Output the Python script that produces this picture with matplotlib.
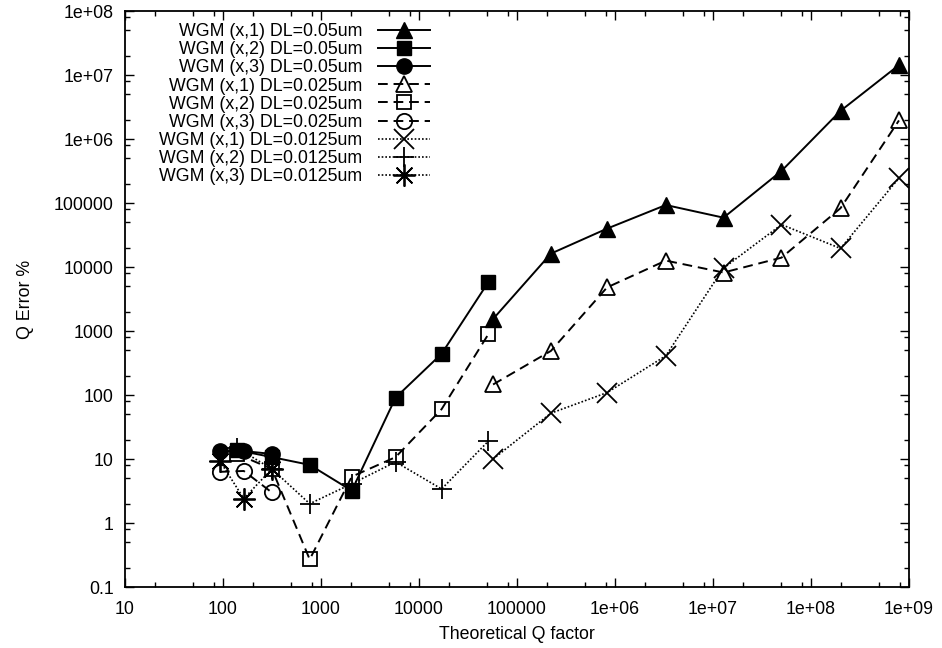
import matplotlib.pyplot as plt
from matplotlib.ticker import LogLocator, NullFormatter, FixedLocator

plt.rcParams['font.family'] = ['Liberation Sans', 'DejaVu Sans']

# theoretical Q factor for each mode family
q_mode1 = [57000, 222000, 830000, 3.3e6, 1.28e7, 5.0e7, 2.0e8, 7.9e8]
q_mode2 = [138, 315, 767, 2060, 5770, 17000, 51000]
q_mode3 = [93, 163, 315]

# Q error % for each mesh size
err1_050 = [1540, 16200, 39800, 93000, 59000, 317000, 2.75e6, 1.43e7]
err2_050 = [13.8, 10.7, 8.1, 3.2, 91, 440, 5800]
err3_050 = [13.3, 13.3, 12.0]
err1_025 = [146, 489, 4800, 12600, 8200, 14000, 83000, 1.95e6]
err2_025 = [12, 7, 0.27, 5.3, 10.7, 60, 890]
err3_025 = [6.3, 6.5, 3.0]
err1_0125 = [10, 52, 109, 410, 9600, 46000, 19500, 245000]
err2_0125 = [15, 7, 2.0, 4.1, 9, 3.4, 19]
err3_0125 = [9.3, 2.4, 7]

labels = [
    "WGM (x,1) DL=0.05um", "WGM (x,2) DL=0.05um", "WGM (x,3) DL=0.05um",
    "WGM (x,1) DL=0.025um", "WGM (x,2) DL=0.025um", "WGM (x,3) DL=0.025um",
    "WGM (x,1) DL=0.0125um", "WGM (x,2) DL=0.0125um", "WGM (x,3) DL=0.0125um",
]

fs = 12.8

fig = plt.figure(figsize=(9.42, 6.48), dpi=100)
ax = fig.add_axes([125 / 942, 1 - 587 / 648, 784 / 942, 576 / 648])

solid = dict(color="black", lw=1.4, ls="-")
dashed = dict(color="black", lw=1.4, ls=(0, (5, 3)))
dotted = dict(color="black", lw=1.2, ls=(0, (1, 1.2)))

ax.plot(q_mode1, err1_050, marker="^", ms=11, label=labels[0], **solid)
ax.plot(q_mode2, err2_050, marker="s", ms=9.5, label=labels[1], **solid)
ax.plot(q_mode3, err3_050, marker="o", ms=11, label=labels[2], **solid)
ax.plot(q_mode1, err1_025, marker="^", ms=11, mfc="none", mew=1.3, label=labels[3], **dashed)
ax.plot(q_mode2, err2_025, marker="s", ms=9.5, mfc="none", mew=1.3, label=labels[4], **dashed)
ax.plot(q_mode3, err3_025, marker="o", ms=11, mfc="none", mew=1.3, label=labels[5], **dashed)
ax.plot(q_mode1, err1_0125, marker="x", ms=14, mew=1.3, label=labels[6], **dotted)
ax.plot(q_mode2, err2_0125, marker="+", ms=15, mew=1.3, label=labels[7], **dotted)
ax.plot(q_mode3, err3_0125, marker=(8, 2, 0), ms=16, mew=1.3, label=labels[8], **dotted)

ax.set_xscale("log")
ax.set_yscale("log")
ax.set_xlim(10, 1e9)
ax.set_ylim(0.1, 1e8)

xt = [10 ** k for k in range(1, 10)]
yt = [10.0 ** k for k in range(-1, 9)]
ax.xaxis.set_major_locator(FixedLocator(xt))
ax.yaxis.set_major_locator(FixedLocator(yt))
ax.set_xticklabels(["10", "100", "1000", "10000", "100000", "1e+06", "1e+07", "1e+08", "1e+09"])
ax.set_yticklabels(["0.1", "1", "10", "100", "1000", "10000", "100000", "1e+06", "1e+07", "1e+08"])
ax.xaxis.set_minor_locator(LogLocator(base=10, subs=(2, 5, 8), numticks=20))
ax.yaxis.set_minor_locator(LogLocator(base=10, subs=(2, 5, 8), numticks=20))
ax.xaxis.set_minor_formatter(NullFormatter())
ax.yaxis.set_minor_formatter(NullFormatter())

ax.tick_params(which="both", direction="in", top=True, right=True, labelsize=fs, width=1)
ax.tick_params(which="major", length=6.5)
ax.tick_params(which="minor", length=3.5)
ax.tick_params(axis="x", which="major", pad=10)
ax.tick_params(axis="y", which="major", pad=8)
for s in ax.spines.values():
    s.set_linewidth(1.3)

ax.set_xlabel("Theoretical Q factor", fontsize=fs, labelpad=6)
ax.set_ylabel("Q Error %", fontsize=fs)
ax.yaxis.set_label_coords(-0.116, 0.5)

ax.legend(loc="upper right", bbox_to_anchor=(0.389, 0.979), frameon=False,
          markerfirst=False, fontsize=fs, handlelength=2.9, handletextpad=0.9,
          labelspacing=0.065, borderpad=0, borderaxespad=0)

fig.savefig("out.png", dpi=100)
plt.close(fig)
